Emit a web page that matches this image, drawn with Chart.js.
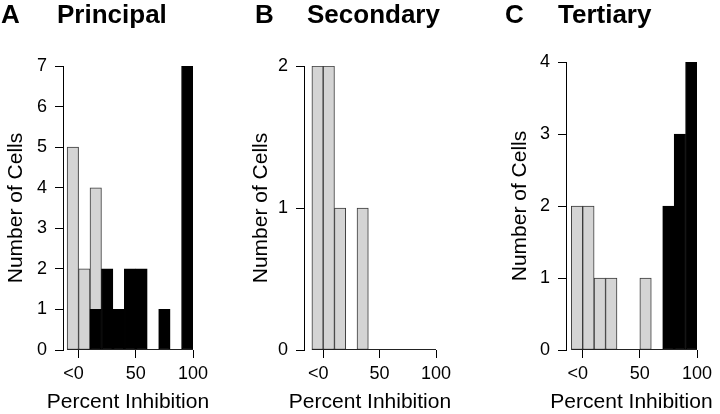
<!DOCTYPE html>
<html>
<head>
<meta charset="utf-8">
<script src="https://cdn.jsdelivr.net/npm/chart.js@4.4.1/dist/chart.umd.min.js"></script>
<style>
  body { margin: 0; background: #fff; }
  .panel { position: absolute; top: 0; width: 240px; height: 414px; }
</style>
</head>
<body>
<div class="panel" style="left:0"><canvas id="chartA"></canvas></div>
<div class="panel" style="left:240px"><canvas id="chartB"></canvas></div>
<div class="panel" style="left:480px"><canvas id="chartC"></canvas></div>
<script>
// histogram bins (left edges), 10% wide
const binStarts = [-10, 0, 10, 20, 30, 40, 50, 60, 70, 80, 90];
const binWidth = 10;
const xTicks = [0, 50, 100];
const xTickLabels = ['<0\u2007', '50', '100'];

// counts per bin
const principalGray = [5, 2, 4, 0, 0, 0, 0, 0, 0, 0, 0];
const principalBlack = [0, 0, 1, 2, 1, 2, 2, 0, 1, 0, 7];
const secondaryGray = [2, 2, 1, 0, 1, 0, 0, 0, 0, 0, 0];
const secondaryBlack = [0, 0, 0, 0, 0, 0, 0, 0, 0, 0, 0];
const tertiaryGray = [2, 2, 1, 1, 0, 0, 1, 0, 0, 0, 0];
const tertiaryBlack = [0, 0, 0, 0, 0, 0, 0, 0, 2, 3, 4];

const FONT = "'Liberation Sans', Arial, sans-serif";
Chart.defaults.font.family = FONT;
Chart.defaults.color = '#000';

// panel letter + name on top, x axis title below (drawn by hand so it isn't squeezed to the plot width)
const panelText = {
    id: 'panelText',
    afterDraw(chart, args, opts) {
        const ctx = chart.ctx;
        const area = chart.chartArea;
        ctx.save();
        ctx.fillStyle = '#000';
        ctx.textBaseline = 'alphabetic';
        ctx.textAlign = 'left';
        ctx.font = 'bold 26px ' + FONT;
        ctx.fillText(opts.letter, opts.letterX, 23);
        ctx.fillText(opts.name, opts.nameX, 23);
        ctx.font = '21px ' + FONT;
        ctx.textAlign = 'center';
        ctx.fillText(opts.xTitle, (area.left + area.right) / 2, 408);
        ctx.restore();
    }
};

// R-style histogram baseline (zero-height bins still show their edge)
const baseline = {
    id: 'baseline',
    afterDatasetsDraw(chart) {
        const ctx = chart.ctx;
        const x = chart.scales.x, y = chart.scales.y;
        const y0 = Math.round(y.getPixelForValue(0)) - 0.5;
        ctx.save();
        ctx.strokeStyle = '#222';
        ctx.lineWidth = 1;
        ctx.beginPath();
        ctx.moveTo(x.getPixelForValue(binStarts[0]), y0);
        ctx.lineTo(x.getPixelForValue(binStarts[binStarts.length - 1] + binWidth), y0);
        ctx.stroke();
        ctx.restore();
    }
};

function toPoints(counts) {
    return counts.map((c, i) => ({ x: binStarts[i] + binWidth / 2, y: c }));
}

function makePanel(id, p) {
    const ctx = document.getElementById(id).getContext('2d');
    new Chart(ctx, {
        type: 'bar',
        data: {
            datasets: [
                {
                    data: toPoints(p.black),
                    backgroundColor: '#000',
                    borderColor: '#000',
                    borderWidth: 1,
                    borderSkipped: false,
                    order: 0
                },
                {
                    data: toPoints(p.gray),
                    backgroundColor: '#d4d4d4',
                    borderColor: '#3a3a3a',
                    borderWidth: 1,
                    borderSkipped: false,
                    order: 1
                }
            ]
        },
        options: {
            responsive: true,
            maintainAspectRatio: false,
            animation: false,
            events: [],
            grouped: false,
            barPercentage: 1,
            categoryPercentage: 1,
            layout: { padding: { left: 0, right: p.right, top: p.top, bottom: 0 } },
            plugins: {
                legend: { display: false },
                tooltip: { enabled: false },
                panelText: { letter: p.letter, name: p.name, letterX: p.letterX, nameX: p.nameX, xTitle: 'Percent Inhibition' }
            },
            scales: {
                x: {
                    type: 'linear',
                    offset: false,
                    min: p.xMin,
                    max: 100,
                    afterBuildTicks: s => { s.ticks = xTicks.map(v => ({ value: v })); },
                    afterFit: s => { s.height = 64; },
                    ticks: {
                        autoSkip: false,
                        maxRotation: 0,
                        padding: 5,
                        font: { size: 18 },
                        callback: (v) => xTickLabels[xTicks.indexOf(v)]
                    },
                    grid: { offset: false, drawOnChartArea: false, drawTicks: true, tickLength: 8, color: '#000' },
                    border: { display: false }
                },
                y: {
                    min: 0,
                    max: p.yMax,
                    afterFit: s => { s.width = p.axisX; },
                    ticks: { stepSize: 1, padding: 8, font: { size: 18 } },
                    grid: { drawOnChartArea: false, drawTicks: true, tickLength: 8, color: '#000' },
                    border: { display: true, color: '#000', width: 1 },
                    title: { display: true, text: 'Number of Cells', font: { size: 21 }, padding: { top: p.yTitlePad, bottom: 0 } }
                }
            }
        },
        plugins: [panelText, baseline]
    });
}

makePanel('chartA', {
    letter: 'A', name: 'Principal', letterX: 1, nameX: 57,
    gray: principalGray, black: principalBlack, yMax: 7,
    xMin: -13.6, axisX: 63, right: 47, top: 66, yTitlePad: 3.4
});
makePanel('chartB', {
    letter: 'B', name: 'Secondary', letterX: 15, nameX: 67,
    gray: secondaryGray, black: secondaryBlack, yMax: 2,
    xMin: -17, axisX: 64, right: 44, top: 66, yTitlePad: 8.4
});
makePanel('chartC', {
    letter: 'C', name: 'Tertiary', letterX: 25, nameX: 78,
    gray: tertiaryGray, black: tertiaryBlack, yMax: 4,
    xMin: -14.6, axisX: 86, right: 23, top: 62, yTitlePad: 27.4
});
</script>
</body>
</html>
